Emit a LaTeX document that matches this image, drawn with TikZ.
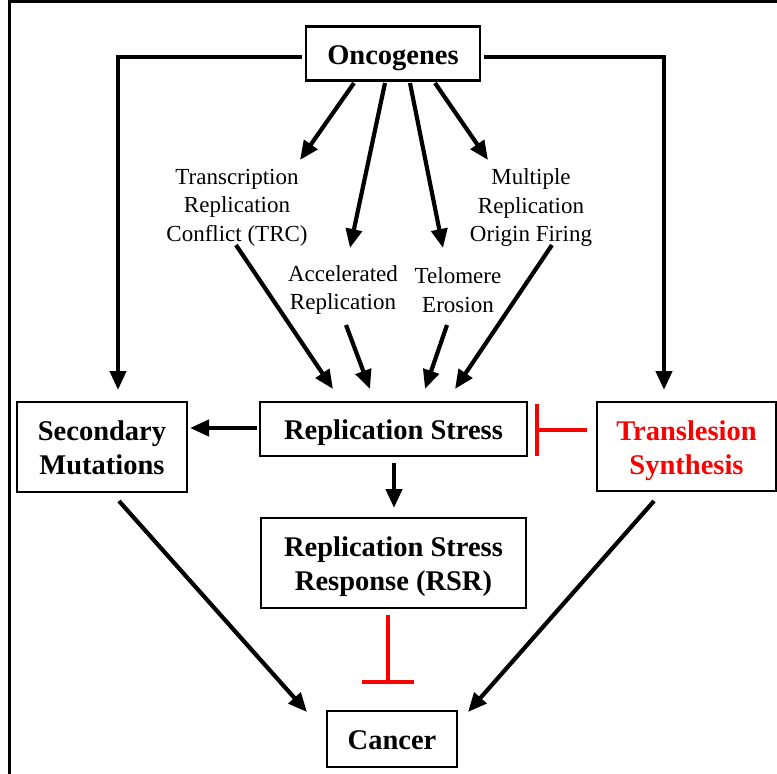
\documentclass[tikz,border=0pt]{standalone}
\usepackage{fontspec}
\setmainfont{Liberation Serif}
\usetikzlibrary{arrows.meta}
\definecolor{inhred}{RGB}{250,0,0}
\newcommand{\boxtxt}[1]{\raisebox{-4pt}[\height][\depth]{\begin{tabular}{@{}c@{}}#1\end{tabular}}}
\tikzset{
  box/.style={draw=black, line width=2.6pt, inner sep=0pt, outer sep=0pt, align=center,
    font=\fontsize{28.5}{34}\selectfont\bfseries},
  lbl/.style={inner sep=0pt, align=center, font=\fontsize{23}{28.5}\selectfont},
  arr/.style={line width=4.2pt, -{Triangle[length=19pt,width=16pt]}},
  inh/.style={draw=inhred, line width=3.6pt}
}
\begin{document}
\begin{tikzpicture}[x=1pt,y=-1pt]
\useasboundingbox (0,0) rectangle (777,774);
% frame (left and top edges only visible)
\draw[line width=3pt] (9,774) -- (9,1.5) -- (777,1.5);

% boxes
\node[box, minimum width=174pt, minimum height=54pt] (onc) at (393,53.5) {\boxtxt{Oncogenes}};
\node[box, minimum width=170pt, minimum height=90pt] (sec) at (102,447) {\boxtxt{Secondary\\Mutations}};
\node[box, minimum width=267pt, minimum height=54pt] (rs) at (393.5,429) {\boxtxt{Replication Stress}};
\node[box, minimum width=179pt, minimum height=89pt, text=inhred] (tls) at (686.5,446.5) {\boxtxt{Translesion\\Synthesis}};
\node[box, minimum width=265pt, minimum height=90pt] (rsr) at (393.5,563) {\boxtxt{Replication Stress\\Response (RSR)}};
\node[box, minimum width=130pt, minimum height=56pt] (can) at (392,739) {\boxtxt{Cancer}};

% labels
\node[lbl] (trc) at (237,207.5) {Transcription\\Replication\\Conflict (TRC)};
\node[lbl] (mult) at (531,207.5) {Multiple\\Replication\\Origin Firing};
\node[lbl] (acc) at (343,290) {Accelerated\\Replication};
\node[lbl] (tel) at (458,290) {Telomere\\Erosion};

% connector end points
\coordinate (oL) at (302,57);
\coordinate (oR) at (484,57);
\coordinate (secTop) at (118,390);
\coordinate (tlsTop) at (664,390);
\coordinate (o1) at (354,83);
\coordinate (o2) at (385,83);
\coordinate (o3) at (410,83);
\coordinate (o4) at (435,83);
\coordinate (trcT) at (300,160);
\coordinate (accT) at (350,248);
\coordinate (telT) at (443,248);
\coordinate (multT) at (488,160);
\coordinate (trcB) at (236,245);
\coordinate (accB) at (346,325);
\coordinate (telB) at (447,325);
\coordinate (multB) at (552,245);
\coordinate (rs1) at (333,389);
\coordinate (rs2) at (370,389);
\coordinate (rs3) at (425,389);
\coordinate (rs4) at (455,389);
\coordinate (rsL) at (257,428);
\coordinate (secR) at (190,428);
\coordinate (rsB) at (394,463);
\coordinate (rsrT) at (394,508);
\coordinate (secB) at (119,501);
\coordinate (canL) at (307,712);
\coordinate (tlsB) at (654,501);
\coordinate (canR) at (468,712);
\coordinate (tlsW) at (587,430);
\coordinate (barA) at (537,404);
\coordinate (barB) at (537,456);
\coordinate (barC) at (537,430);
\coordinate (rsrB) at (388,615);
\coordinate (barD) at (362,682);
\coordinate (barE) at (414,682);
\coordinate (barF) at (388,682);

% oncogenes side branches
\draw[arr] (oL) -| (secTop);
\draw[arr] (oR) -| (tlsTop);

% oncogenes to mechanisms
\draw[arr] (o1) -- (trcT);
\draw[arr] (o2) -- (accT);
\draw[arr] (o3) -- (telT);
\draw[arr] (o4) -- (multT);

% mechanisms to replication stress
\draw[arr] (trcB) -- (rs1);
\draw[arr] (accB) -- (rs2);
\draw[arr] (telB) -- (rs3);
\draw[arr] (multB) -- (rs4);

% replication stress outputs
\draw[arr] (rsL) -- (secR);
\draw[arr] (rsB) -- (rsrT);

% to cancer
\draw[arr] (secB) -- (canL);
\draw[arr] (tlsB) -- (canR);

% inhibitions
\draw[inh] (tlsW) -- (barC);
\draw[inh] (barA) -- (barB);
\draw[inh] (rsrB) -- (barF);
\draw[inh] (barD) -- (barE);
\end{tikzpicture}
\end{document}
